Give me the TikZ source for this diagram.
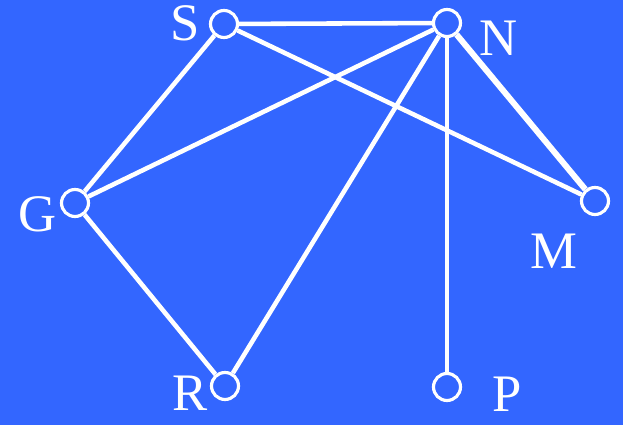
\documentclass[tikz,border=0pt]{standalone}
\usepackage{fontspec}
\setmainfont{Liberation Serif}
\usepackage{xcolor}
\definecolor{slideblue}{HTML}{3366FF}

\begin{document}
\begin{tikzpicture}[x=0.02cm,y=-0.02cm,
    vert/.style={circle,draw=white,line width=1.8pt,fill=slideblue,
                 minimum size=0.54cm,inner sep=0pt},
    lbl/.style={text=white,font=\fontsize{30}{32}\selectfont,inner sep=0pt},
    edge/.style={white,line width=2.6pt}]
  \fill[slideblue] (0,0) rectangle (623,425);
  \useasboundingbox (0,0) rectangle (623,425);
  % vertices
  \node[vert] (s) at (224,24) {};
  \node[vert] (n) at (447,23) {};
  \node[vert] (g) at (75,203) {};
  \node[vert] (m) at (595,201) {};
  \node[vert] (r) at (225,386) {};
  \node[vert] (p) at (447,387) {};
  % labels
  \node[lbl] (ls) at (185,23) {S};
  \node[lbl] (ln) at (499,38) {N};
  \node[lbl] (lg) at (38,214) {G};
  \node[lbl] (lm) at (554,251) {M};
  \node[lbl] (lr) at (190,393) {R};
  \node[lbl] (lp) at (507,394) {P};
  % edges
  \draw[edge] (s) -- (n);
  \draw[edge] (s) -- (g);
  \draw[edge] (s) -- (m);
  \draw[edge] (n) -- (g);
  \draw[edge] (n) -- (r);
  \draw[edge] (n) -- (p);
  \draw[edge,line width=3.4pt] (n) -- (m);
  \draw[edge] (g) -- (r);
\end{tikzpicture}
\end{document}
